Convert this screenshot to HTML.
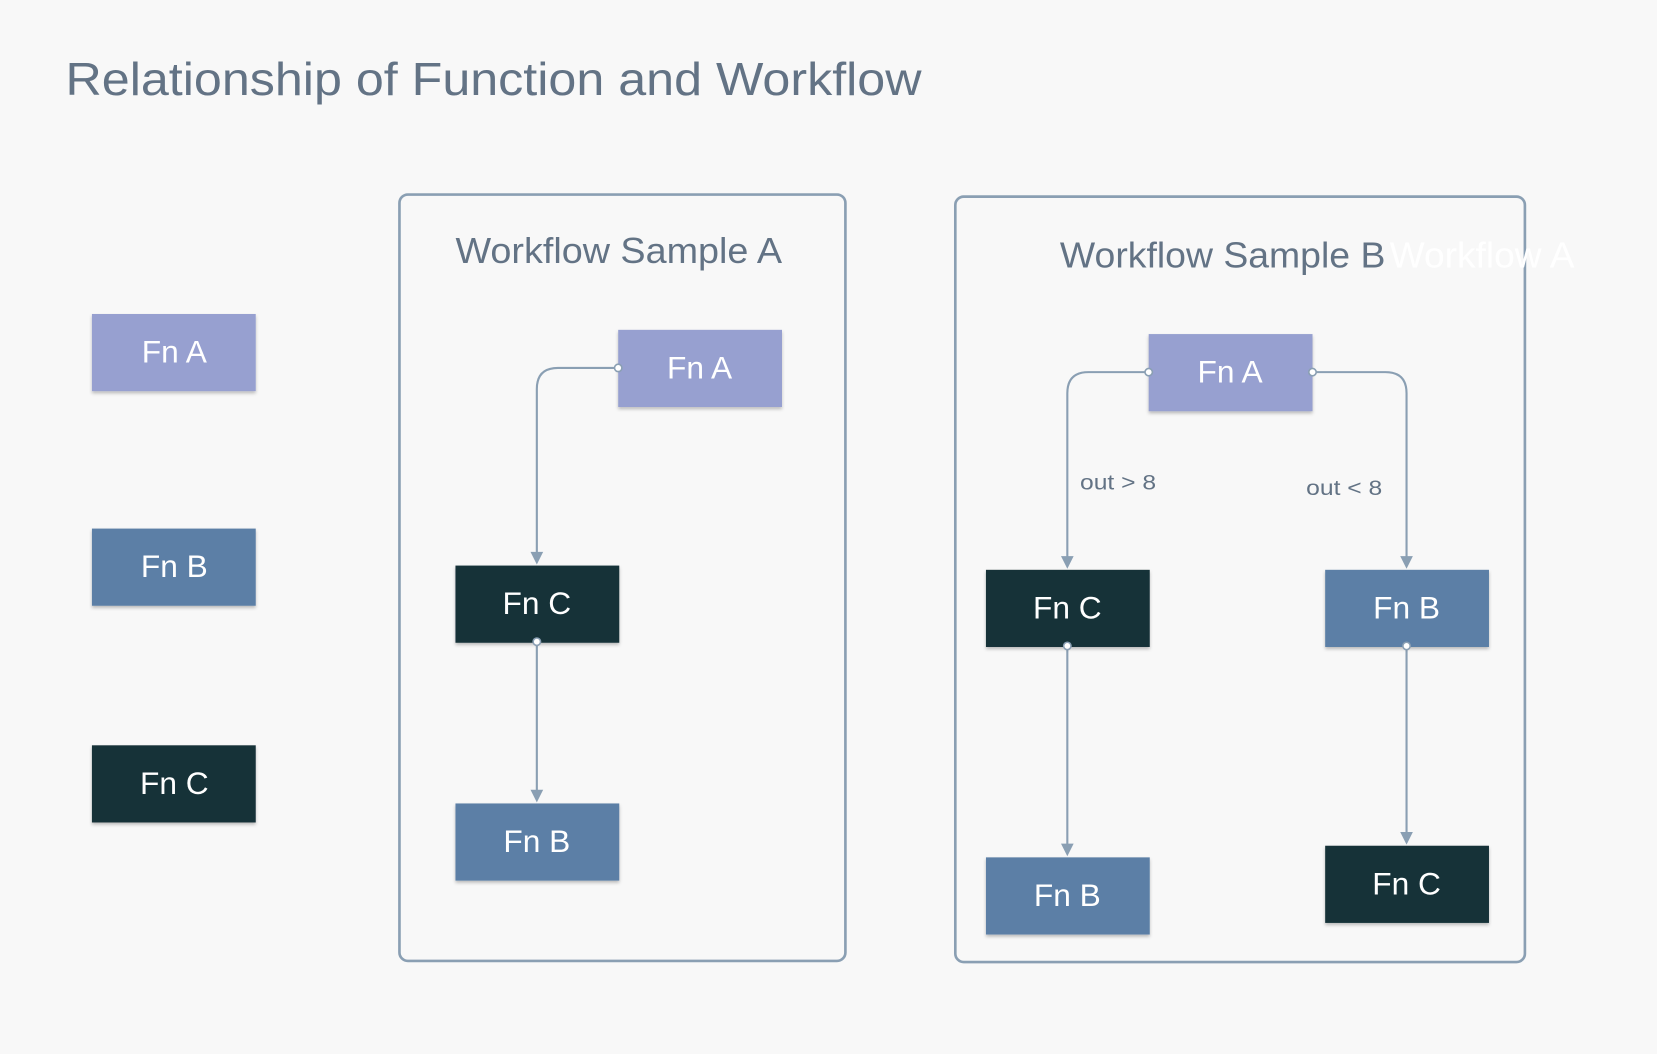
<!DOCTYPE html>
<html><head><meta charset="utf-8"><style>
html,body{margin:0;padding:0;background:#f8f8f8;}
svg{display:block;}
text{font-family:"Liberation Sans",sans-serif;}
</style></head><body>
<svg width="1657" height="1054" viewBox="0 0 1568 997" preserveAspectRatio="none" xmlns="http://www.w3.org/2000/svg">
<defs>
<filter id="sh" x="-10%" y="-10%" width="130%" height="140%"><feDropShadow dx="0" dy="2" stdDeviation="1.5" flood-color="#000" flood-opacity="0.25"/></filter>
</defs>
<rect width="1568" height="997" fill="#f8f8f8"/>
<text x="62" y="90" font-size="44" fill="#637385" textLength="810" lengthAdjust="spacingAndGlyphs">Relationship of Function and Workflow</text>

<g filter="url(#sh)">
<rect x="87" y="297" width="155" height="73" fill="#97a0d0"/>
<rect x="87" y="500" width="155" height="73" fill="#5b7fa6"/>
<rect x="87" y="705" width="155" height="73" fill="#143038"/>
</g>
<g font-size="30" fill="#fff" text-anchor="middle">
<text x="165" y="343">Fn A</text>
<text x="165" y="546">Fn B</text>
<text x="165" y="751">Fn C</text>
</g>

<rect x="378" y="184" width="422" height="725" rx="8" fill="none" stroke="#8a9fb3" stroke-width="2.5"/>
<text x="431" y="249" font-size="34" fill="#637385" textLength="309" lengthAdjust="spacingAndGlyphs">Workflow Sample A</text>
<rect x="904" y="186" width="539" height="724" rx="8" fill="none" stroke="#8a9fb3" stroke-width="2.5"/>
<text x="1003" y="253" font-size="34" fill="#637385" textLength="308" lengthAdjust="spacingAndGlyphs">Workflow Sample B</text>
<text x="1315" y="253" font-size="34" fill="#ffffff" textLength="175" lengthAdjust="spacingAndGlyphs">Workflow A</text>

<g fill="none" stroke="#8a9fb3" stroke-width="2">
<path d="M585,348 H528 Q508,348 508,368 V531"/>
<path d="M508,607 V756"/>
<path d="M1087,352 H1030 Q1010,352 1010,372 V535"/>
<path d="M1242,352 H1311 Q1331,352 1331,372 V535"/>
<path d="M1010,611 V807"/>
<path d="M1331,611 V796"/>
</g>
<g fill="#8a9fb3">
<path d="M502,522 L514,522 L508,534 z"/>
<path d="M502,747 L514,747 L508,759 z"/>
<path d="M1004,526 L1016,526 L1010,538 z"/>
<path d="M1325,526 L1337,526 L1331,538 z"/>
<path d="M1004,798 L1016,798 L1010,810 z"/>
<path d="M1325,787 L1337,787 L1331,799 z"/>
</g>

<g filter="url(#sh)">
<rect x="585" y="312" width="155" height="73" fill="#97a0d0"/>
<rect x="431" y="535" width="155" height="73" fill="#143038"/>
<rect x="431" y="760" width="155" height="73" fill="#5b7fa6"/>
<rect x="1087" y="316" width="155" height="73" fill="#97a0d0"/>
<rect x="933" y="539" width="155" height="73" fill="#143038"/>
<rect x="1254" y="539" width="155" height="73" fill="#5b7fa6"/>
<rect x="933" y="811" width="155" height="73" fill="#5b7fa6"/>
<rect x="1254" y="800" width="155" height="73" fill="#143038"/>
</g>
<g font-size="30" fill="#fff" text-anchor="middle">
<text x="662" y="358">Fn A</text>
<text x="508" y="581">Fn C</text>
<text x="508" y="806">Fn B</text>
<text x="1164" y="362">Fn A</text>
<text x="1010" y="585">Fn C</text>
<text x="1331" y="585">Fn B</text>
<text x="1010" y="857">Fn B</text>
<text x="1331" y="846">Fn C</text>
</g>
<g fill="#fff" stroke="#8a9fb3" stroke-width="1.5">
<circle cx="585" cy="348" r="3.5"/>
<circle cx="508" cy="607" r="3.5"/>
<circle cx="1087" cy="352" r="3.5"/>
<circle cx="1242" cy="352" r="3.5"/>
<circle cx="1010" cy="611" r="3.5"/>
<circle cx="1331" cy="611" r="3.5"/>
</g>
<text x="1022" y="463" font-size="20" fill="#637385" textLength="72" lengthAdjust="spacingAndGlyphs">out &gt; 8</text>
<text x="1236" y="468" font-size="20" fill="#637385" textLength="72" lengthAdjust="spacingAndGlyphs">out &lt; 8</text>
</svg>
</body></html>
